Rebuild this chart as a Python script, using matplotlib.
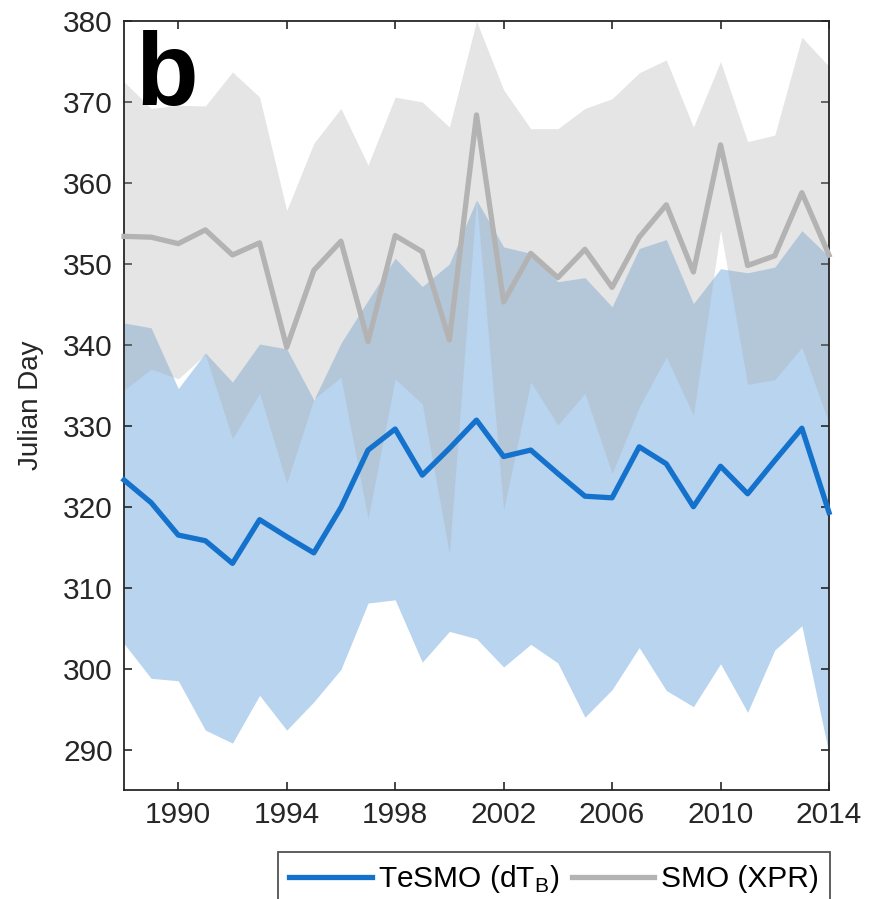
import numpy as np
import matplotlib
matplotlib.use('Agg')
import matplotlib.pyplot as plt

plt.rcParams['font.family'] = ['Liberation Sans', 'DejaVu Sans']
plt.rcParams['mathtext.fontset'] = 'custom'
plt.rcParams['mathtext.rm'] = 'Liberation Sans'

# Годы наблюдений
years = np.arange(1988, 2015)

# SMO (XPR): среднее и диапазон
smo_mean = [353.4, 353.3, 352.5, 354.2, 351.1, 352.6, 339.7, 349.2, 352.8, 340.4,
            353.5, 351.5, 340.6, 368.4, 345.3, 351.3, 348.3, 351.8, 347.1, 353.3,
            357.3, 349.0, 364.7, 349.8, 351.0, 358.8, 351.1]
smo_upper = [372.5, 369.2, 369.6, 369.5, 373.7, 370.6, 356.6, 364.9, 369.2, 362.2,
             370.6, 370.0, 366.9, 380.0, 371.5, 366.7, 366.7, 369.2, 370.4, 373.6,
             375.2, 366.9, 375.0, 365.1, 365.9, 378.0, 374.4]
smo_lower = [334.4, 337.0, 335.8, 338.8, 328.4, 334.0, 322.9, 333.3, 336.0, 318.5,
             335.8, 332.7, 314.2, 358.0, 319.6, 335.4, 330.1, 334.0, 324.1, 332.3,
             338.5, 331.3, 354.2, 335.1, 335.7, 339.7, 330.3]

# TeSMO (dTB): среднее и диапазон
tesmo_mean = [323.3, 320.5, 316.5, 315.8, 313.0, 318.4, 316.3, 314.3, 319.9, 327.0,
              329.6, 323.9, 327.2, 330.7, 326.2, 327.0, 324.1, 321.3, 321.1, 327.4,
              325.3, 320.0, 325.0, 321.6, 325.7, 329.7, 319.3]
tesmo_upper = [342.7, 342.1, 334.6, 339.0, 335.4, 340.1, 339.5, 333.2, 340.2, 345.5,
               350.7, 347.2, 350.0, 357.9, 352.1, 351.3, 347.8, 348.3, 344.7, 351.9,
               353.0, 345.1, 349.4, 348.9, 349.6, 354.1, 350.9]
tesmo_lower = [303.1, 298.8, 298.5, 292.4, 290.8, 296.7, 292.4, 295.9, 299.9, 308.1,
               308.5, 300.8, 304.6, 303.7, 300.2, 303.0, 300.7, 294.0, 297.4, 302.6,
               297.3, 295.3, 300.6, 294.6, 302.3, 305.3, 289.5]

xticks = [1990, 1994, 1998, 2002, 2006, 2010, 2014]
yticks = np.arange(290, 381, 10)

fig = plt.figure(figsize=(8.79, 8.99), dpi=100)
ax = fig.add_axes([0.1411, 0.1212, 0.8020, 0.8554])

ax.fill_between(years, tesmo_lower, tesmo_upper, color='#B8D4EF', lw=0, zorder=1)
ax.fill_between(years, smo_lower, smo_upper, color='#ABABAB', alpha=0.31, lw=0, zorder=2)
ax.plot(years, smo_mean, color='#B3B3B3', lw=3.8, zorder=3, clip_on=False,
        label='SMO (XPR)')
ax.plot(years, tesmo_mean, color='#1472CC', lw=3.8, zorder=4, clip_on=False,
        label='TeSMO (dT$_{\\mathrm{B}}$)')

ax.set_xlim(1988, 2014)
ax.set_ylim(285, 380)
ax.set_xticks(xticks)
ax.set_yticks(yticks)
ax.tick_params(direction='in', length=6, width=1.2, top=True, right=True,
               labelsize=21.5, colors='#262626', pad=8)
for s in ax.spines.values():
    s.set_linewidth(1.3)
    s.set_color('#262626')

ax.set_ylabel('Julian Day', fontsize=20, color='#262626', labelpad=14)

ax.text(0.016, 0.891, 'b', transform=ax.transAxes, fontsize=74,
        fontweight='bold', va='baseline', ha='left', zorder=6)

h, l = ax.get_legend_handles_labels()
leg = fig.legend(h[::-1], l[::-1], loc='upper left', bbox_to_anchor=(0.316, 0.0523),
                 bbox_transform=fig.transFigure, borderaxespad=0, ncol=2,
                 fontsize=21.5, frameon=True, fancybox=False, handlelength=2.77,
                 handletextpad=0.23, columnspacing=0.4, borderpad=0.37)
leg.get_frame().set_edgecolor('#262626')
leg.get_frame().set_linewidth(1.3)

fig.savefig('out.png', dpi=100)
